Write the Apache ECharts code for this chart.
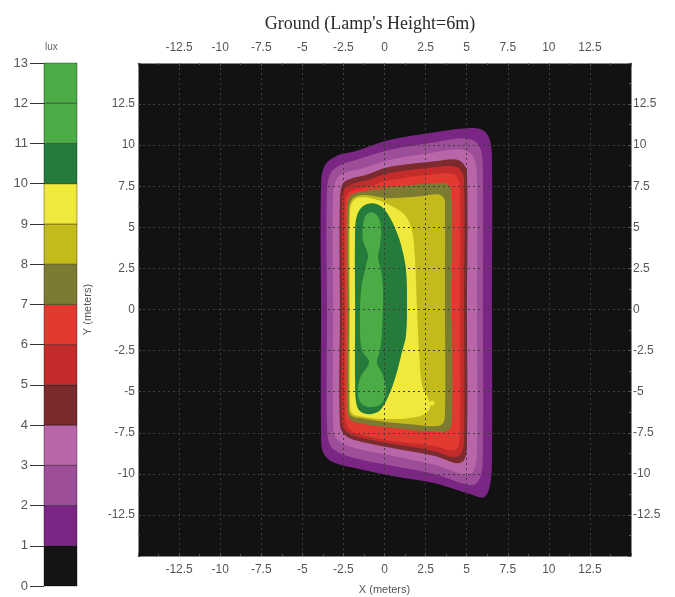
<!DOCTYPE html>
<html>
<head>
<meta charset="utf-8">
<script src="https://cdn.jsdelivr.net/npm/echarts@6/dist/echarts.min.js"></script>
<style>
  html, body { margin: 0; padding: 0; background: #ffffff; }
  #chart { width: 675px; height: 597px; }
</style>
</head>
<body>
<div id="chart"></div>
<script>
// Illuminance bands (lux), one colour per 1-lux step from 0 to 13
const bandLows = [0, 1, 2, 3, 4, 5, 6, 7, 8, 9, 10, 11, 12];
const bandColors = [
  '#141414', '#7b2584', '#9c4e98', '#b866a9', '#7b2b2e', '#c42c2b', '#e23a31',
  '#7d7a31', '#c3ba1b', '#f0e93b', '#247b3c', '#4bab45', '#4bab45'
];

// Isolux contours on the ground plane, coordinates in metres [x, y].
// Each outline encloses the area receiving at least its level in lux.
const isolux1 = [
  [-3.86, 7.56], [-3.62, 8.78], [-2.83, 9.39], [-1.79, 9.63], [0.21, 10.30], [3.07, 10.78],
  [5.08, 11.03], [5.99, 10.91], [6.42, 10.30], [6.54, 9.08], [6.54, -0.04], [6.54, -9.17],
  [6.42, -10.69], [6.05, -11.42], [5.20, -11.23], [3.07, -10.57], [0.21, -10.08],
  [-1.79, -9.65], [-3.13, -9.29], [-3.74, -8.68], [-3.86, -7.34], [-3.86, -0.04]
];
const isolux2 = [
  [-3.50, 7.26], [-3.25, 8.35], [-2.59, 8.84], [-1.79, 9.08], [0.21, 9.69], [3.07, 10.18],
  [4.71, 10.42], [5.50, 10.24], [5.87, 9.69], [5.99, 8.47], [5.99, -0.04], [5.99, -8.86],
  [5.81, -10.26], [5.32, -10.69], [3.07, -10.02], [0.21, -9.47], [-1.79, -9.05],
  [-2.83, -8.68], [-3.32, -8.25], [-3.50, -7.04], [-3.50, -0.04]
];
const isolux3 = [
  [-3.13, 6.95], [-2.89, 7.99], [-2.34, 8.35], [-1.49, 8.53], [0.21, 9.08], [3.07, 9.57],
  [4.47, 9.75], [5.14, 9.57], [5.50, 9.08], [5.63, 7.86], [5.63, -0.04], [5.63, -8.56],
  [5.44, -9.78], [4.96, -10.08], [3.07, -9.47], [0.21, -8.86], [-1.79, -8.44],
  [-2.59, -8.13], [-3.01, -7.71], [-3.13, -6.73], [-3.13, -0.04]
];
const isolux4 = [
  [-2.71, 6.77], [-2.52, 7.68], [-1.98, 7.99], [-1.19, 8.17], [0.21, 8.66], [3.07, 9.02],
  [4.29, 9.14], [4.77, 8.90], [5.02, 8.35], [5.02, -0.04], [5.02, -8.25], [4.84, -9.17],
  [4.35, -9.35], [3.07, -8.92], [0.21, -8.38], [-1.79, -7.95], [-2.40, -7.65],
  [-2.71, -7.04], [-2.71, -0.04]
];
const isolux5 = [
  [-2.59, 6.65], [-2.40, 7.38], [-1.86, 7.68], [-1.00, 7.86], [0.21, 8.29], [3.07, 8.66],
  [4.17, 8.72], [4.65, 8.47], [4.84, 7.86], [4.84, -0.04], [4.84, -7.95], [4.65, -8.80],
  [4.17, -8.98], [3.07, -8.62], [0.21, -8.13], [-1.79, -7.71], [-2.28, -7.46],
  [-2.59, -6.86], [-2.59, -0.04]
];
const isolux6 = [
  [-2.40, 6.47], [-2.22, 7.07], [-1.67, 7.32], [-0.88, 7.50], [0.21, 7.86], [3.07, 8.23],
  [3.98, 8.29], [4.41, 8.05], [4.59, 7.44], [4.59, -0.04], [4.59, -7.65], [4.41, -8.44],
  [3.92, -8.56], [3.07, -8.31], [0.21, -7.95], [-1.79, -7.52], [-2.16, -7.22],
  [-2.40, -6.61], [-2.40, -0.04]
];
const isolux7 = [
  [-2.28, 6.16], [-2.10, 6.89], [-1.61, 7.14], [-0.76, 7.26], [0.21, 7.44], [3.07, 7.68],
  [3.74, 7.68], [4.04, 7.38], [4.11, 6.77], [4.11, -0.04], [4.11, -6.73], [3.92, -7.34],
  [3.38, -7.46], [0.21, -7.16], [-1.79, -6.86], [-2.16, -6.61], [-2.28, -6.13], [-2.28, -0.04]
];
const isolux8 = [
  [-2.16, 6.04], [-1.98, 6.71], [-1.49, 6.95], [-0.58, 6.89], [0.21, 6.77], [2.16, 6.89],
  [3.25, 7.01], [3.62, 6.77], [3.68, 6.16], [3.68, -0.04], [3.68, -6.43], [3.50, -6.98],
  [2.89, -7.10], [1.55, -6.98], [0.21, -6.86], [-1.49, -6.61], [-2.04, -6.43],
  [-2.16, -6.00], [-2.16, -0.04]
];
const isolux9 = [
  [-2.10, 5.92], [-1.92, 6.59], [-1.37, 6.83], [-0.40, 6.65], [0.46, 6.28], [1.25, 5.74],
  [1.67, 4.82], [1.86, 3.00], [1.98, -0.04], [2.10, -2.48], [2.28, -4.60], [2.65, -5.40],
  [2.77, -6.00], [2.16, -6.49], [0.21, -6.67], [-1.49, -6.49], [-1.98, -6.31],
  [-2.10, -5.52], [-2.10, -0.04]
];
const isolux9Spot = [
  [2.75, -5.62], [2.95, -5.55], [3.05, -5.70], [2.90, -5.85], [2.75, -5.78]
];
const isolux10 = [
  [-1.79, 4.82], [-1.67, 5.74], [-1.31, 6.28], [-0.76, 6.47], [-0.21, 6.28], [0.21, 5.80],
  [0.70, 4.82], [1.06, 3.73], [1.31, 2.39], [1.37, 0.57], [1.31, -1.56], [1.06, -2.60],
  [0.70, -4.00], [0.27, -5.21], [-0.27, -6.13], [-0.88, -6.37], [-1.49, -6.19],
  [-1.73, -5.64], [-1.79, -4.30], [-1.79, -0.04]
];
const isolux11 = [
  [-1.31, 5.13], [-1.13, 5.74], [-0.76, 5.92], [-0.40, 5.68], [-0.21, 4.95], [-0.27, 3.91],
  [-0.40, 3.18], [-0.21, 2.39], [-0.09, 1.17], [-0.15, -1.26], [-0.27, -2.48], [-0.46, -3.21],
  [-0.09, -4.00], [0.09, -4.91], [-0.15, -5.70], [-0.76, -5.94], [-1.37, -5.76],
  [-1.61, -5.21], [-1.49, -4.18], [-0.94, -3.21], [-1.37, -2.48], [-1.49, -1.26],
  [-1.43, 1.17], [-1.13, 2.69], [-1.00, 3.30], [-1.31, 4.22]
];

// Drawing order: lowest level first so higher levels sit on top
const contourList = [
  { level: 1, points: isolux1 },
  { level: 2, points: isolux2 },
  { level: 3, points: isolux3 },
  { level: 4, points: isolux4 },
  { level: 5, points: isolux5 },
  { level: 6, points: isolux6 },
  { level: 7, points: isolux7 },
  { level: 8, points: isolux8 },
  { level: 9, points: isolux9 },
  { level: 9, points: isolux9Spot },
  { level: 10, points: isolux10 },
  { level: 11, points: isolux11 }
];

const chart = echarts.init(document.getElementById('chart'), null, { renderer: 'canvas' });

const sansFamily = 'Liberation Sans, Arial, sans-serif';
const gridLine = { show: true, lineStyle: { color: '#3e3e3e', width: 1, type: [2, 3] } };
const frameLine = { show: true, onZero: false, lineStyle: { color: '#8a8a8a', width: 1 } };

function plotAxis(extra, labelMargin) {
  return Object.assign({
    type: 'value', min: -15, max: 15, interval: 2.5, gridIndex: 0, z: 10,
    axisLine: frameLine,
    axisTick: { show: true, inside: true, length: 3, lineStyle: { color: '#555' } },
    minorTick: { show: true, splitNumber: 2, length: 2, lineStyle: { color: '#555' } },
    axisLabel: {
      showMinLabel: false, showMaxLabel: false, margin: labelMargin,
      color: '#555555', fontSize: 12, fontFamily: sansFamily
    },
    splitLine: { show: false }
  }, extra);
}

const option = {
  animation: false,
  backgroundColor: '#ffffff',
  title: {
    text: "Ground (Lamp's Height=6m)",
    left: 365, top: 10, textAlign: 'center',
    textStyle: { fontFamily: 'Liberation Serif, Times New Roman, serif', fontSize: 18, fontWeight: 'normal', color: '#2a2a2a' }
  },
  grid: [
    { left: 138, top: 63, width: 493, height: 493, show: true, backgroundColor: '#121212',
      borderWidth: 0, containLabel: false, outerBoundsMode: 'none' },
    { left: 44, top: 63, width: 33, height: 523, show: false, containLabel: false, outerBoundsMode: 'none' }
  ],
  xAxis: [
    plotAxis({ position: 'bottom', splitLine: gridLine,
      name: 'X (meters)', nameLocation: 'middle', nameGap: 28,
      nameTextStyle: { color: '#555555', fontSize: 11, fontFamily: sansFamily } }, 8),
    plotAxis({ position: 'top' }, 9),
    { type: 'value', min: 0, max: 1, gridIndex: 1, show: false }
  ],
  yAxis: [
    plotAxis({ position: 'left', splitLine: gridLine,
      name: 'Y (meters)', nameLocation: 'middle', nameGap: 45, nameRotate: 90,
      nameTextStyle: { color: '#555555', fontSize: 11, fontFamily: sansFamily } }, 3),
    plotAxis({ position: 'right' }, 2),
    {
      type: 'value', min: 0, max: 13, interval: 1, gridIndex: 1, position: 'left',
      axisLine: { show: false },
      axisTick: { show: true, length: 14, lineStyle: { color: '#333333', width: 1 } },
      axisLabel: { margin: 16, color: '#555555', fontSize: 13, fontFamily: sansFamily },
      splitLine: { show: false }
    }
  ],
  graphic: [
    { type: 'text', left: 45, top: 42,
      style: { text: 'lux', fill: '#666666', fontSize: 10, fontFamily: sansFamily } }
  ],
  series: [
    {
      type: 'custom',
      name: 'isolux',
      coordinateSystem: 'cartesian2d',
      xAxisIndex: 0, yAxisIndex: 0,
      z: 2,
      data: contourList.map(c => c.points[0]),
      renderItem: function (params, api) {
        const c = contourList[params.dataIndex];
        const pts = c.points.map(p => api.coord(p));
        return {
          type: 'polygon',
          shape: { points: pts, smooth: 0.35 },
          style: { fill: bandColors[c.level], stroke: null }
        };
      }
    },
    {
      type: 'custom',
      name: 'lux scale',
      coordinateSystem: 'cartesian2d',
      xAxisIndex: 2, yAxisIndex: 2,
      data: bandLows.map(v => [0, v]),
      renderItem: function (params, api) {
        const lo = bandLows[params.dataIndex];
        const p0 = api.coord([0, lo + 1]);
        const p1 = api.coord([1, lo]);
        return {
          type: 'rect',
          shape: { x: p0[0], y: p0[1], width: p1[0] - p0[0], height: p1[1] - p0[1] },
          style: { fill: bandColors[params.dataIndex], stroke: 'rgba(0,0,0,0.35)', lineWidth: 1 }
        };
      }
    }
  ]
};

chart.setOption(option);
</script>
</body>
</html>
